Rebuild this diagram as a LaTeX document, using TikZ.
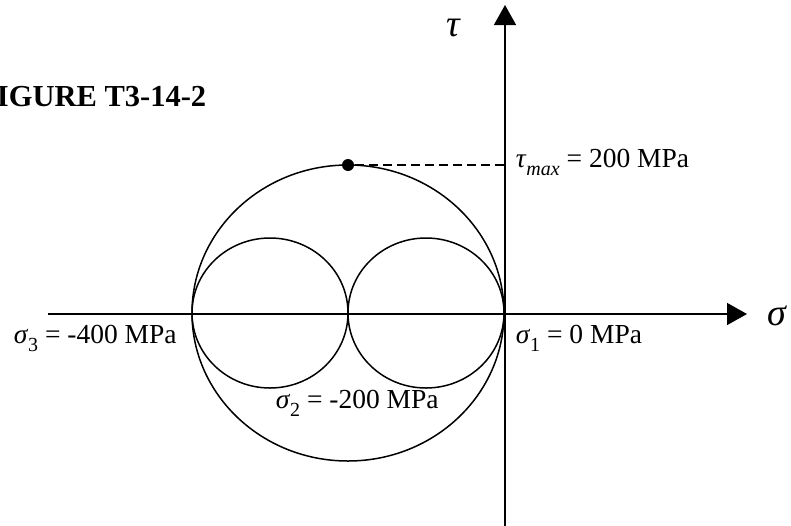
\documentclass[tikz,border=0pt]{standalone}
\usepackage{fontspec}
\setmainfont{Liberation Serif}
\usetikzlibrary{arrows.meta}
\newcommand{\lowsub}[1]{\raisebox{-0.32em}{\fontsize{20}{20}\selectfont #1}}
\begin{document}
\begin{tikzpicture}[x=1pt,y=-1pt,line width=1.5pt,
  axisline/.style={-{Triangle[length=20pt,width=22pt]}},
  lbl/.style={font=\fontsize{27.5}{32}\selectfont,inner sep=0pt},
  bigsym/.style={font=\fontsize{38}{40}\selectfont\itshape,inner sep=0pt},
  titlelbl/.style={font=\fontsize{30.5}{34}\selectfont\bfseries,inner sep=0pt},
  dotstyle/.style={circle,fill=black,inner sep=0pt,minimum size=12pt},
  dashline/.style={dash pattern=on 9pt off 5pt,line width=1.4pt}]
\useasboundingbox (0,0) rectangle (791,525);
% axes
\coordinate (xs) at (48,314);
\coordinate (xe) at (747,314);
\coordinate (yb) at (505,526);
\coordinate (yt) at (505,5);
\draw[axisline] (xs) -- (xe);
\draw[axisline] (yb) -- (yt);
% circles
\draw (348,313) ellipse [x radius=156pt, y radius=148pt];
\draw (270,313) ellipse [x radius=78pt, y radius=75pt];
\draw (426,313) ellipse [x radius=78pt, y radius=75pt];
% max shear point
\node[dotstyle] (pt) at (348,165) {};
\coordinate (ax) at (505,165);
\draw[dashline] (pt) -- (ax);
% labels
\node[bigsym] (tau) at (453,28) {τ};
\node[bigsym] (sig) at (777,316) {σ};
\node[titlelbl,anchor=base east] (title) at (207,106) {FIGURE T3-14-2};
\node[lbl,anchor=base west] (tmax) at (515,167) {\textit{τ}\lowsub{\itshape max} = 200 MPa};
\node[lbl,anchor=base west] (s1) at (515,343) {\textit{σ}\lowsub{1} = 0 MPa};
\node[lbl,anchor=base west] (s3) at (13,343) {\textit{σ}\lowsub{3} = -400 MPa};
\node[lbl,anchor=base west] (s2) at (275,408) {\textit{σ}\lowsub{2} = -200 MPa};
\end{tikzpicture}
\end{document}
